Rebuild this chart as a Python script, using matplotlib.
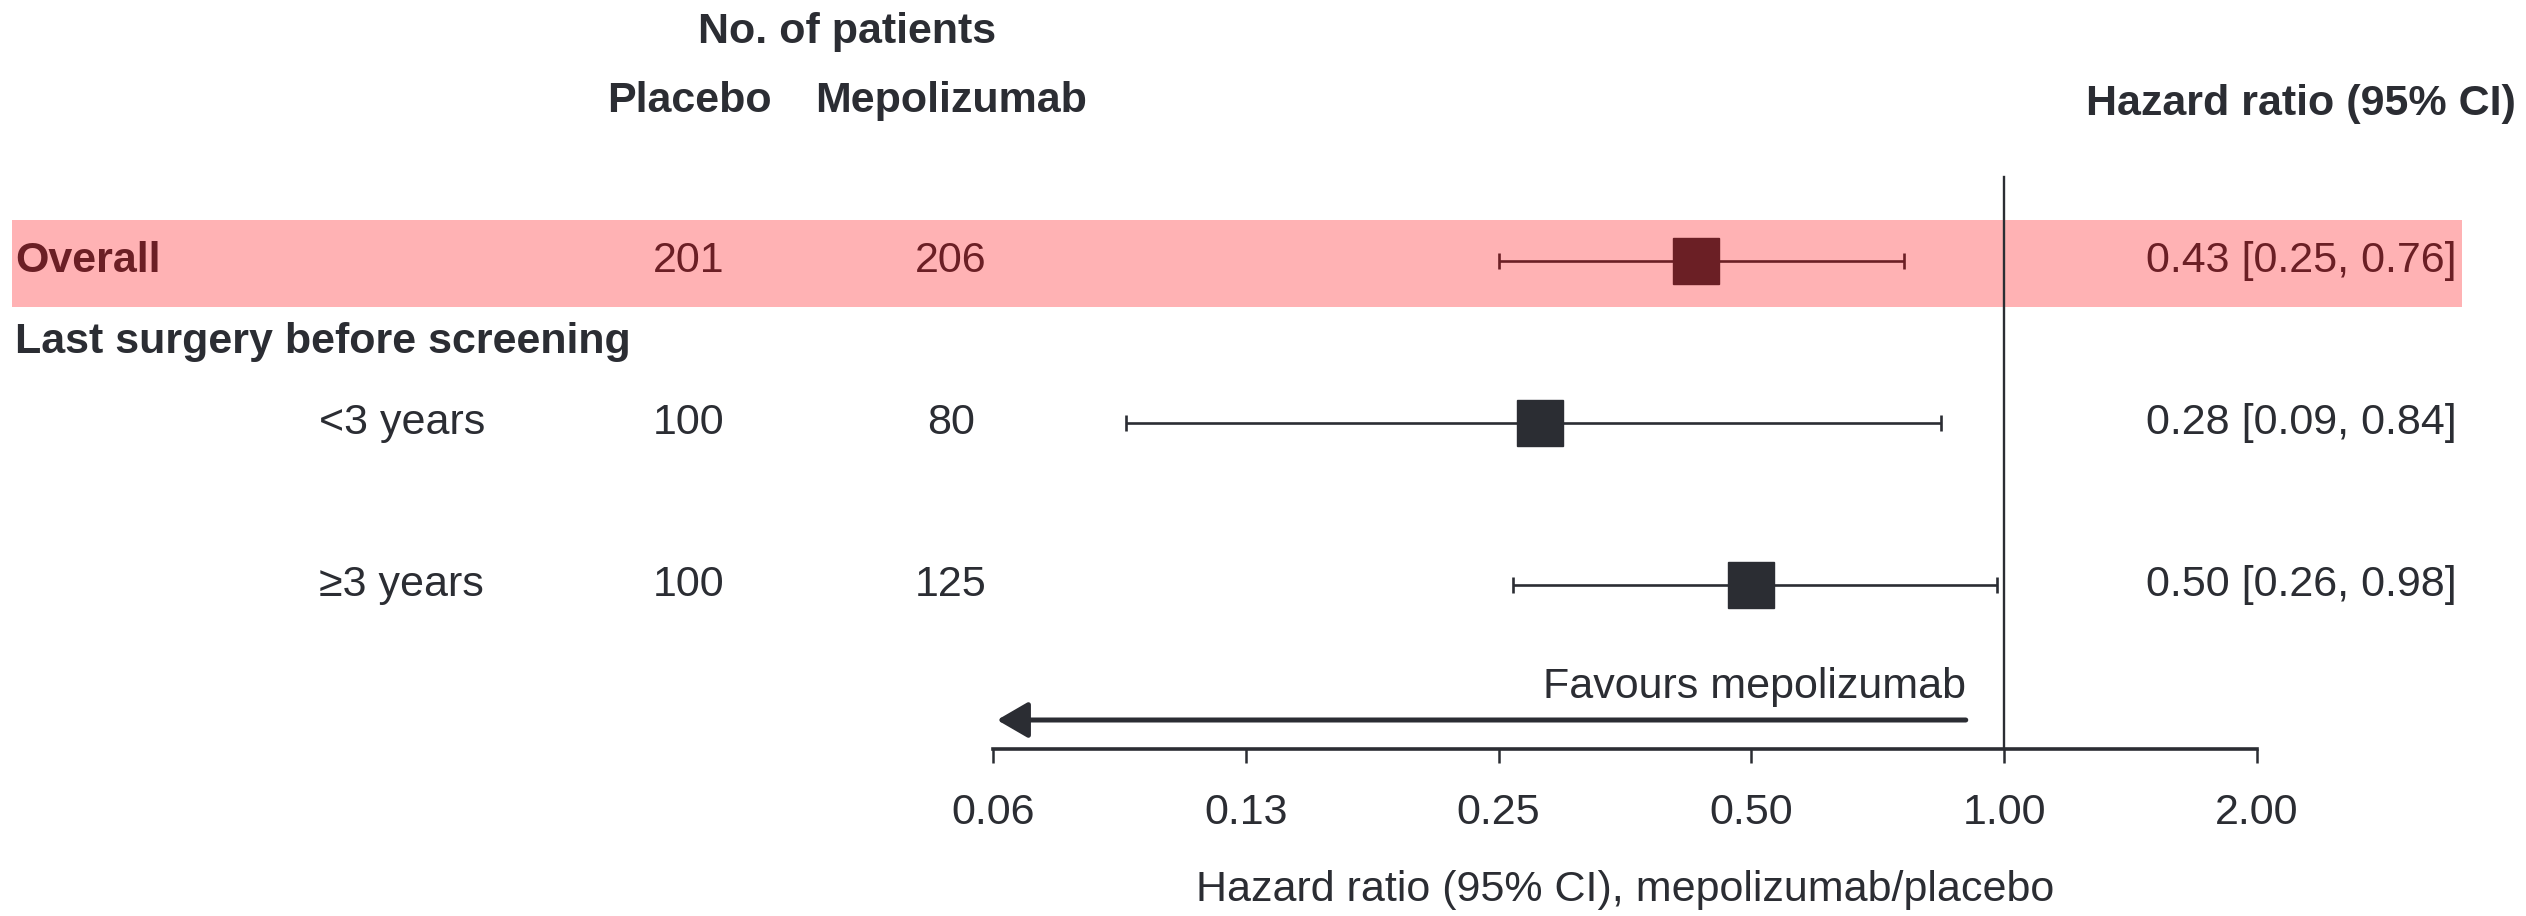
import numpy as np
import matplotlib
matplotlib.use("Agg")
import matplotlib.pyplot as plt

plt.rcParams['font.family'] = ['Liberation Sans', 'DejaVu Sans']

# subgroup table
labels = ["Overall", "Last surgery before screening", "<3 years", "\u22653 years"]
rows = [0, 1, 2, 4]
n_placebo = [201, None, 100, 100]
n_mepo = [206, None, 80, 125]
hr = [0.43, None, 0.28, 0.50]
ci_low = [0.25, None, 0.09, 0.26]
ci_high = [0.76, None, 0.84, 0.98]

xticks = [0.0625, 0.125, 0.25, 0.5, 1.0, 2.0]
xticklabels = ["0.06", "0.13", "0.25", "0.50", "1.00", "2.00"]

dark = "#2b2d33"
red = "#6b1f25"
pink = "#ffb2b4"
fs = 31

W, H = 2526, 916
fig = plt.figure(figsize=(W / 100, H / 100), dpi=100)
ax_bottom = (H - 749) / H
ax = fig.add_axes([0, ax_bottom, 1, 1 - ax_bottom])

ax.set_xscale('log', base=2)
# px -> log2 mapping: 0.0625 at 993 px, 2.0 at 2257 px
ppu = (2257 - 993) / 5.0
ax.set_xlim(2 ** (-4 - 993 / ppu), 2 ** (1 + (W - 2257) / ppu))
row_px = 81.0
top_row = 261
ax.set_ylim((749 - top_row) / row_px, -top_row / row_px)

for s in ['top', 'left', 'right']:
    ax.spines[s].set_visible(False)
ax.spines['bottom'].set_bounds(xticks[0], xticks[-1])
ax.spines['bottom'].set_linewidth(2.6)
ax.spines['bottom'].set_color(dark)
ax.set_yticks([])
ax.set_xticks(xticks)
ax.set_xticklabels(xticklabels)
ax.xaxis.set_minor_locator(matplotlib.ticker.NullLocator())
ax.tick_params(axis='x', length=10, width=1.8, color=dark, pad=22,
               labelsize=fs, labelcolor=dark)

ax.set_xlabel("Hazard ratio (95% CI), mepolizumab/placebo", fontsize=fs, color=dark)
ax.xaxis.label.set_va('center')
ax.xaxis.set_label_coords(1625 / W, -(890 - 749) / 749)

# highlighted overall row
ax.axhspan((220 - top_row) / row_px, (307 - top_row) / row_px,
           xmin=12 / W, xmax=2462 / W, color=pink, lw=0, zorder=0)

# line of no effect
ax.plot([1, 1], [(177 - top_row) / row_px, ax.get_ylim()[0]], color=dark, lw=1.7, zorder=2)

blend = matplotlib.transforms.blended_transform_factory(fig.transFigure, ax.transData)

# column headers
ax.text(847 / W, (32 - top_row) / row_px, "No. of patients", transform=blend,
        ha='center', va='center', fontsize=fs, fontweight='bold', color=dark)
ax.text(689 / W, (101 - top_row) / row_px, "Placebo", transform=blend,
        ha='center', va='center', fontsize=fs, fontweight='bold', color=dark)
ax.text(951 / W, (101 - top_row) / row_px, "Mepolizumab", transform=blend,
        ha='center', va='center', fontsize=fs, fontweight='bold', color=dark)
ax.text(2516 / W, (104 - top_row) / row_px, "Hazard ratio (95% CI)", transform=blend,
        ha='right', va='center', fontsize=fs, fontweight='bold', color=dark)

for i, (lab, r) in enumerate(zip(labels, rows)):
    col = red if i == 0 else dark
    if hr[i] is None:
        ax.text(15 / W, r, lab, transform=blend, ha='left', va='center',
                fontsize=fs, fontweight='bold', color=dark)
        continue
    if i == 0:
        ax.text(15 / W, r, lab, transform=blend, ha='left', va='center',
                fontsize=fs, fontweight='bold', color=col)
    else:
        ax.text(319 / W, r, lab, transform=blend, ha='left', va='center',
                fontsize=fs, color=col)
    ax.text(689 / W, r, str(n_placebo[i]), transform=blend, ha='center', va='center',
            fontsize=fs, color=col)
    ax.text(951 / W, r, str(n_mepo[i]), transform=blend, ha='center', va='center',
            fontsize=fs, color=col)
    ax.text(2457 / W, r, f"{hr[i]:.2f} [{ci_low[i]:.2f}, {ci_high[i]:.2f}]",
            transform=blend, ha='right', va='center', fontsize=fs, color=col)
    ax.errorbar(hr[i], r, xerr=[[hr[i] - ci_low[i]], [ci_high[i] - hr[i]]],
                fmt='s', color=col, ecolor=col, elinewidth=1.9, capsize=6,
                capthick=1.9, ms=33, mec=col, zorder=3)

# direction arrow
ax.annotate("", xy=(0.0632, (720 - top_row) / row_px), xytext=(0.90, (720 - top_row) / row_px),
            arrowprops=dict(arrowstyle='-|>,head_length=1.0,head_width=0.58',
                            mutation_scale=19, lw=3.6, color=dark,
                            shrinkA=0, shrinkB=0))
ax.text(0.90, (687 - top_row) / row_px, "Favours mepolizumab", ha='right', va='center',
        fontsize=fs, color=dark)

fig.savefig("out.png", dpi=100)
